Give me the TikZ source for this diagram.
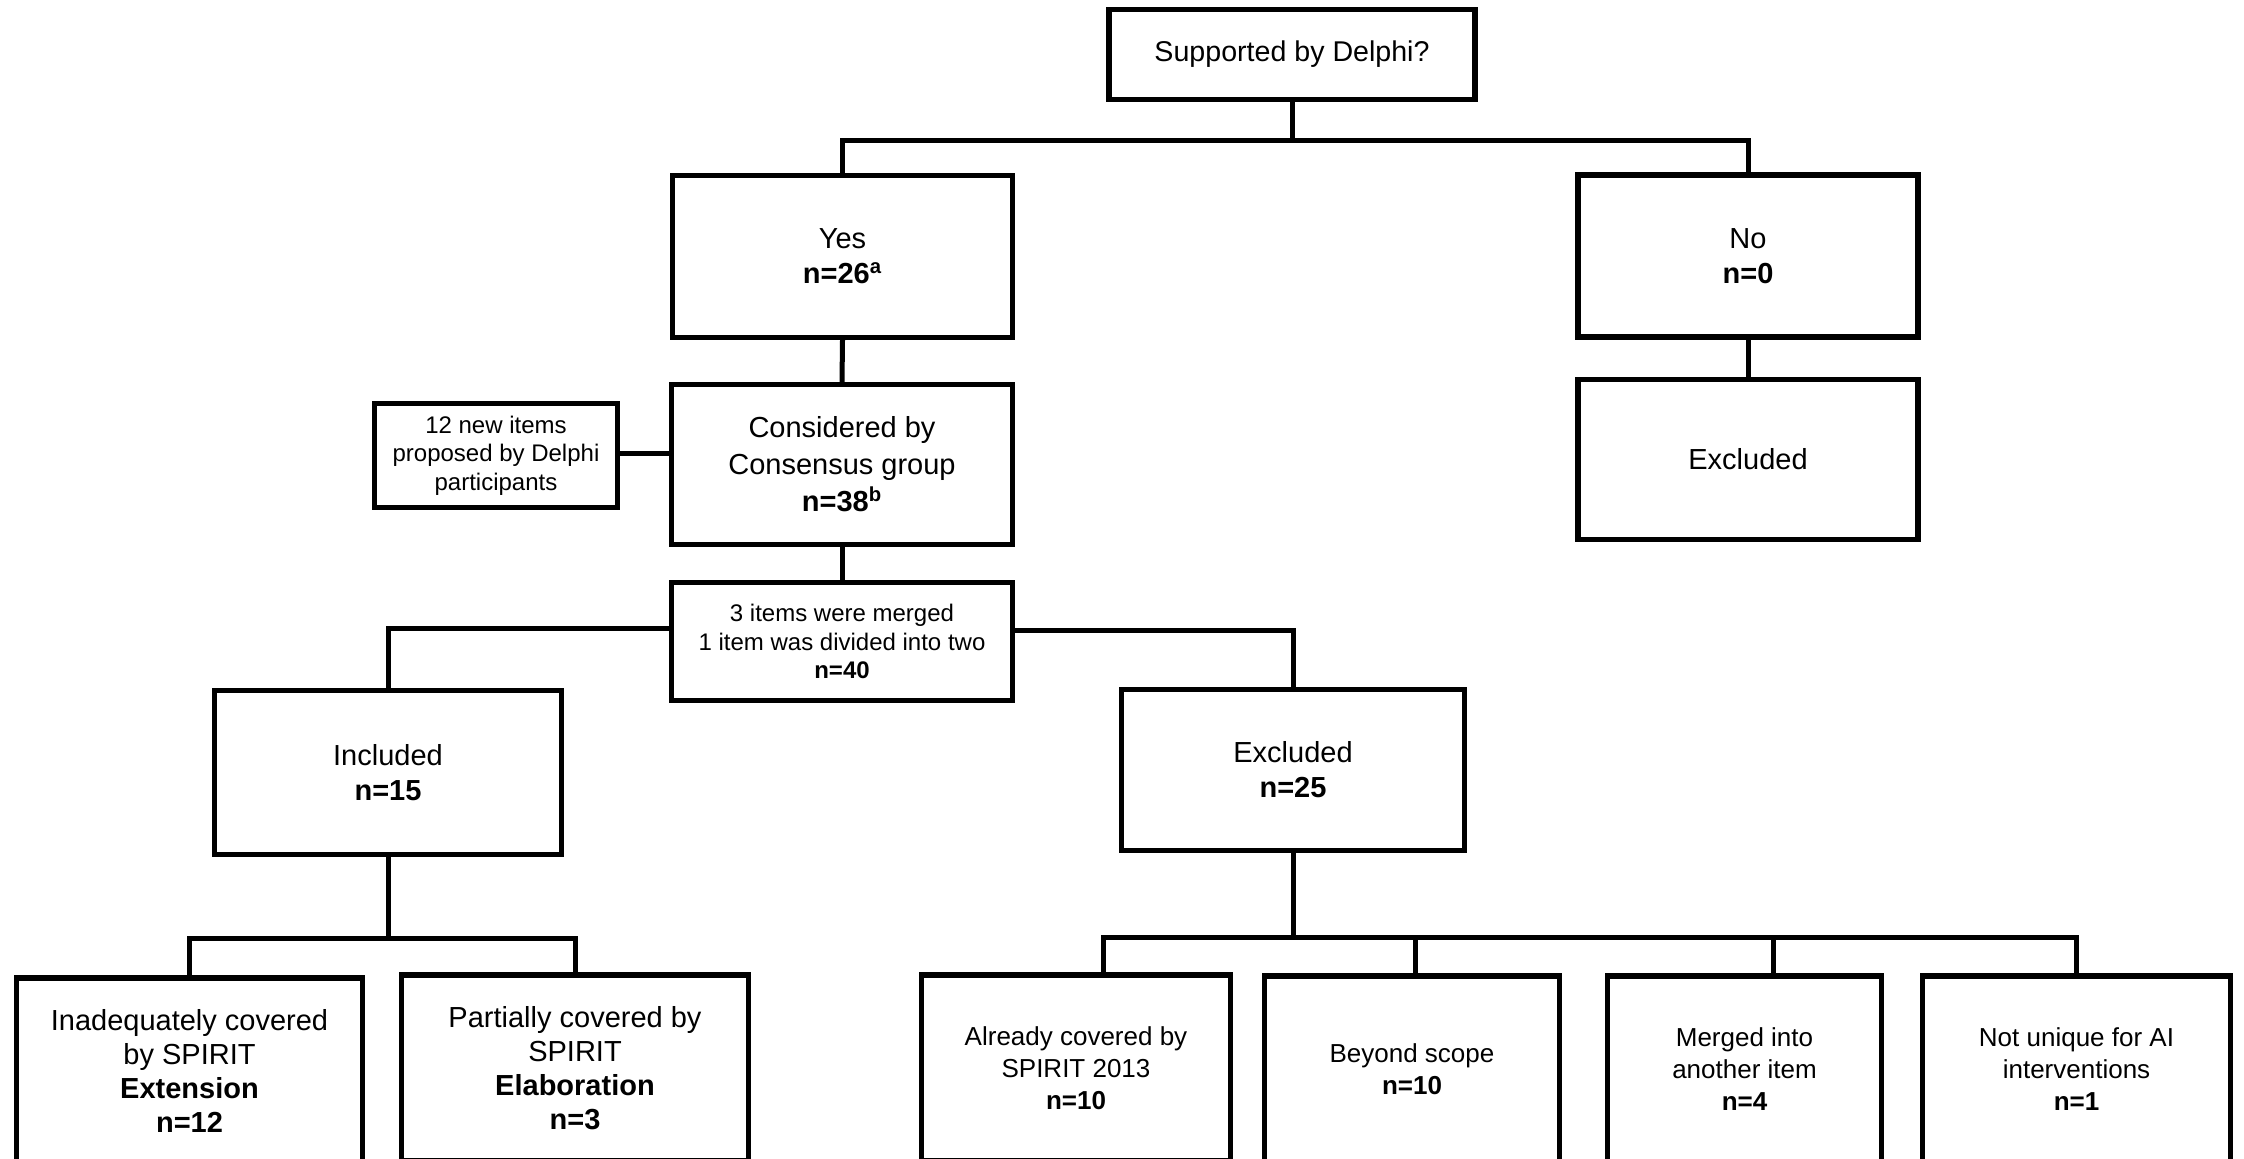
\documentclass[tikz,border=0pt]{standalone}
\usepackage{fontspec}
\setmainfont{Liberation Sans}
\begin{document}
\begin{tikzpicture}[x=0.5pt,y=-0.5pt,
  box/.style={draw=black,line width=2.7pt,fill=white,inner sep=0pt,align=center,
    font=\fontsize{14.5}{17.5}\selectfont},
  smallbox/.style={box,font=\fontsize{12}{14.25}\selectfont},
  leafbox/.style={box,font=\fontsize{13}{16}\selectfont,minimum height=93pt},
  conn/.style={draw=black,line width=2.5pt}]
\useasboundingbox[fill=white] (0,0) rectangle (2244,1158);

% level 0
\node[box,font=\fontsize{14.3}{17}\selectfont,minimum width=183pt,minimum height=45pt] (top) at (1292,54.5) {Supported by Delphi?};
% level 1
\node[box,minimum width=170pt,minimum height=81pt] (yes) at (842.5,256.5) {Yes\\\textbf{n=26\textsuperscript{a}}};
\node[box,minimum width=170pt,minimum height=81pt] (no) at (1748,256) {No\\\textbf{n=0}};
\node[box,minimum width=170pt,minimum height=80pt] (exr) at (1748,459.5) {Excluded};
% level 2
\node[box,font=\fontsize{14.5}{18.5}\selectfont,minimum width=170.5pt,minimum height=80pt] (cons) at (842,464.5) {Considered by\\Consensus group\\\textbf{n=38\textsuperscript{b}}};
\node[smallbox,minimum width=121.5pt,minimum height=52pt] (new) at (496,455.5) {12 new items\\proposed by Delphi\\participants};
\node[smallbox,minimum width=170.5pt,minimum height=59pt] (merg) at (842,641.5) {3 items were merged\\1 item was divided into two\\\textbf{n=40}};
% level 3
\node[box,minimum width=173.5pt,minimum height=82pt] (inc) at (388,772.5) {Included\\\textbf{n=15}};
\node[box,minimum width=171.5pt,minimum height=80.5pt] (exm) at (1293,770) {Excluded\\\textbf{n=25}};
% level 4
\node[leafbox,font=\fontsize{14.5}{17}\selectfont,minimum width=173pt] (b1) at (189.5,1071) {Inadequately covered\\by SPIRIT\\\textbf{Extension}\\\textbf{n=12}};
\node[leafbox,font=\fontsize{14.5}{17}\selectfont,minimum width=173.5pt] (b2) at (575,1068) {Partially covered by\\SPIRIT\\\textbf{Elaboration}\\\textbf{n=3}};
\node[leafbox,minimum width=154.5pt] (b3) at (1076,1068) {Already covered by\\SPIRIT 2013\\\textbf{n=10}};
\node[leafbox,minimum width=147.5pt] (b4) at (1412,1069) {Beyond scope\\\textbf{n=10}};
\node[leafbox,minimum width=137pt] (b5) at (1744.5,1069) {Merged into\\another item\\\textbf{n=4}};
\node[leafbox,minimum width=154pt] (b6) at (2076.5,1069) {Not unique for AI\\interventions\\\textbf{n=1}};

% bus coordinates
\coordinate (bus1) at (1292,140);
\coordinate (bus2) at (388,938);
\coordinate (bus3) at (1293,937);

% connectors
\draw[conn] (top.south) -- (bus1);
\draw[conn] (yes.north) |- (bus1) -| (no.north);
\draw[conn] (no.south) -- (exr.north);
\draw[conn] (yes.south) -- (cons.north);
\draw[conn] ([yshift=1pt]new.east) -- ([yshift=1pt]new.east -| cons.west);
\draw[conn] (cons.south) -- (merg.north);
\draw[conn] ([yshift=6.5pt]merg.west) -| (inc.north);
\draw[conn] ([yshift=5.5pt]merg.east) -| (exm.north);
\draw[conn] (inc.south) -- (bus2);
\draw[conn] (b1.north) |- (bus2) -| (b2.north);
\draw[conn] (exm.south) -- (bus3);
\draw[conn] ([xshift=13.5pt]b3.north) |- (bus3) -| (b6.north);
\draw[conn] ([xshift=1.5pt]b4.north) -- ([xshift=1.5pt]b4.north |- bus3);
\draw[conn] ([xshift=14.25pt]b5.north) -- ([xshift=14.25pt]b5.north |- bus3);
\end{tikzpicture}
\end{document}
